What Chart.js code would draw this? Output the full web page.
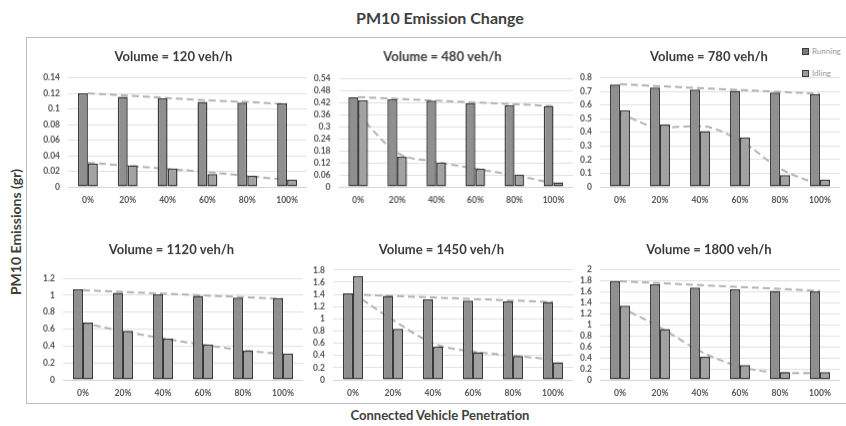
<!DOCTYPE html>
<html>
<head>
<meta charset="utf-8">
<script src="https://cdn.jsdelivr.net/npm/chart.js@4.4.1/dist/chart.umd.min.js"></script>
<style>
  body { margin: 0; background: #fff; font-family: Lato, "Open Sans", sans-serif; }
  #wrap { position: relative; width: 846px; height: 426px; overflow: hidden; }
  #frame { position: absolute; left: 26px; top: 37px; width: 830px; height: 367px; border: 1.5px solid #bdbdbd; box-sizing: border-box; }
  .cbox { position: absolute; }
  #title { position: absolute; left: 0; width: 880px; top: 8px; text-align: center; font-weight: bold; font-size: 16px; color: #404040; }
  #xtitle { position: absolute; left: 0; width: 880px; top: 407px; text-align: center; font-weight: bold; font-size: 13px; color: #404040; }
  #ytitle { position: absolute; left: 15px; top: 232px; transform: translate(-50%, -50%) rotate(-90deg); white-space: nowrap; font-weight: bold; font-size: 14px; color: #404040; }
  #legend { position: absolute; left: 802px; top: 46px; font-size: 8px; color: #9a9a9a; line-height: 11px; }
  #legend div { margin-bottom: 11px; white-space: nowrap; }
  #legend span { display: inline-block; width: 5px; height: 5px; border: 1px solid #3c3c3c; margin-right: 3px; vertical-align: -0.5px; }
</style>
</head>
<body>
<div id="wrap">
  <div id="title">PM10 Emission Change</div>
  <div id="frame"></div>
  <div id="ytitle">PM10 Emissions (gr)</div>
  <div id="xtitle">Connected Vehicle Penetration</div>
  <div id="legend">
    <div><span style="background:#7a7a7a"></span>Running</div>
    <div><span style="background:#9a9a9a"></span>Idling</div>
  </div>
</div>
<script>
// Data
const categories = ['0%', '20%', '40%', '60%', '80%', '100%'];
const panelTitles = ['Volume = 120 veh/h', 'Volume = 480 veh/h', 'Volume = 780 veh/h',
                     'Volume = 1120 veh/h', 'Volume = 1450 veh/h', 'Volume = 1800 veh/h'];
const yMax  = [0.14, 0.54, 0.8, 1.2, 1.8, 2];
const yStep = [0.02, 0.06, 0.1, 0.2, 0.2, 0.2];

const running = [
  [0.1199, 0.1156, 0.1134, 0.109, 0.108, 0.107],
  [0.445, 0.437, 0.429, 0.415, 0.407, 0.402],
  [0.750, 0.729, 0.714, 0.704, 0.692, 0.680],
  [1.07, 1.03, 1.012, 0.992, 0.972, 0.965],
  [1.418, 1.375, 1.32, 1.30, 1.287, 1.277],
  [1.79, 1.73, 1.67, 1.64, 1.61, 1.60]
];
const idling = [
  [0.030, 0.0278, 0.0235, 0.0163, 0.0141, 0.0094],
  [0.432, 0.150, 0.121, 0.090, 0.061, 0.023],
  [0.562, 0.457, 0.410, 0.362, 0.086, 0.054],
  [0.677, 0.579, 0.488, 0.42, 0.346, 0.311],
  [1.70, 0.835, 0.545, 0.453, 0.393, 0.29],
  [1.34, 0.92, 0.42, 0.27, 0.14, 0.14]
];
// trend lines
const runningTrend = [
  [0.120, 0.117, 0.114, 0.111, 0.109, 0.106],
  [0.447, 0.438, 0.429, 0.420, 0.411, 0.402],
  [0.752, 0.738, 0.724, 0.710, 0.696, 0.682],
  [1.06, 1.04, 1.02, 0.998, 0.978, 0.958],
  [1.40, 1.375, 1.35, 1.325, 1.30, 1.275],
  [1.785, 1.75, 1.715, 1.68, 1.645, 1.61]
];
const idlingTrend = [
  [0.031, 0.027, 0.023, 0.019, 0.014, 0.009],
  [0.36, 0.17, 0.125, 0.09, 0.058, 0.018],
  [0.54, 0.435, 0.445, 0.34, 0.134, 0.012],
  [0.67, 0.575, 0.49, 0.415, 0.35, 0.305],
  [1.42, 0.98, 0.6, 0.46, 0.40, 0.33],
  [1.32, 0.95, 0.52, 0.24, 0.13, 0.12]
];

// Layout: canvas left, title center y, plot top, plot bottom, y-axis width, plot right
const layout = [
  { left: 40,  titleY: 57,  top: 77.7,  bottom: 186.7, yw: 28,   right: 307 },
  { left: 312, titleY: 57,  top: 78.3,  bottom: 186.7, yw: 26.5, right: 572.5 },
  { left: 578, titleY: 57,  top: 77.7,  bottom: 186.7, yw: 22,   right: 840 },
  { left: 40,  titleY: 250, top: 278.3, bottom: 380,   yw: 23,   right: 303 },
  { left: 310, titleY: 250, top: 270,   bottom: 380,   yw: 23,   right: 573 },
  { left: 578, titleY: 250, top: 269.3, bottom: 380,   yw: 22,   right: 840 }
];

const FONT = 'Lato, "Open Sans", sans-serif';
const TITLE_SIZE = 13;
const X_AXIS_H = 24;

function makePanel(i) {
  const L = layout[i];
  const half = TITLE_SIZE * 1.2 / 2;
  const canvasTop = L.titleY - half - 2;
  const width = L.right - L.left;
  const height = L.bottom - canvasTop + X_AXIS_H;

  const box = document.createElement('div');
  box.className = 'cbox';
  box.style.left = L.left + 'px';
  box.style.top = canvasTop + 'px';
  box.style.width = width + 'px';
  box.style.height = height + 'px';
  const canvas = document.createElement('canvas');
  canvas.width = width;
  canvas.height = height;
  canvas.style.width = width + 'px';
  canvas.style.height = height + 'px';
  box.appendChild(canvas);
  document.getElementById('wrap').appendChild(box);

  new Chart(canvas, {
    type: 'bar',
    data: {
      labels: categories,
      datasets: [
        {
          label: 'Running', data: running[i],
          backgroundColor: '#8f8f8f', borderColor: '#3a3a3a', borderWidth: 1.5,
          borderSkipped: false, categoryPercentage: 0.5, barPercentage: 1, order: 1
        },
        {
          label: 'Idling', data: idling[i],
          backgroundColor: '#a2a2a2', borderColor: '#3a3a3a', borderWidth: 1.5,
          borderSkipped: false, categoryPercentage: 0.5, barPercentage: 1, order: 1
        },
        {
          type: 'line', label: 'Running trend', data: runningTrend[i],
          borderColor: '#b3b3b3', borderWidth: 2, borderDash: [7, 4],
          pointRadius: 0, tension: 0, order: 3
        },
        {
          type: 'line', label: 'Idling trend', data: idlingTrend[i],
          borderColor: '#b3b3b3', borderWidth: 2, borderDash: [7, 4],
          pointRadius: 0, cubicInterpolationMode: 'monotone', order: 3
        }
      ]
    },
    options: {
      responsive: false,
      animation: false,
      layout: { padding: 0 },
      plugins: {
        legend: { display: false },
        tooltip: { enabled: false },
        title: {
          display: true,
          text: panelTitles[i],
          color: '#3a3a3a',
          font: { family: FONT, size: TITLE_SIZE, weight: 'bold' },
          padding: { top: 2, bottom: L.top - L.titleY - half }
        }
      },
      scales: {
        x: {
          afterFit: (scale) => { scale.height = X_AXIS_H; },
          grid: { display: false, drawTicks: false },
          border: { display: true, color: '#d4d4d4', width: 1 },
          ticks: { color: '#555', padding: 8, autoSkip: false, maxRotation: 0,
                   font: { family: FONT, size: 8.5, weight: 'bold' } }
        },
        y: {
          min: 0,
          max: yMax[i],
          afterFit: (scale) => { scale.width = L.yw; },
          grid: { color: '#e1e1e1', lineWidth: 1, drawTicks: false },
          border: { display: false },
          ticks: {
            stepSize: yStep[i],
            autoSkip: false,
            padding: 8,
            color: '#555',
            font: { family: FONT, size: 8.5, weight: 'bold' },
            callback: (v) => String(+v.toFixed(4))
          }
        }
      }
    }
  });
}

for (let i = 0; i < 6; i++) makePanel(i);
</script>
</body>
</html>
